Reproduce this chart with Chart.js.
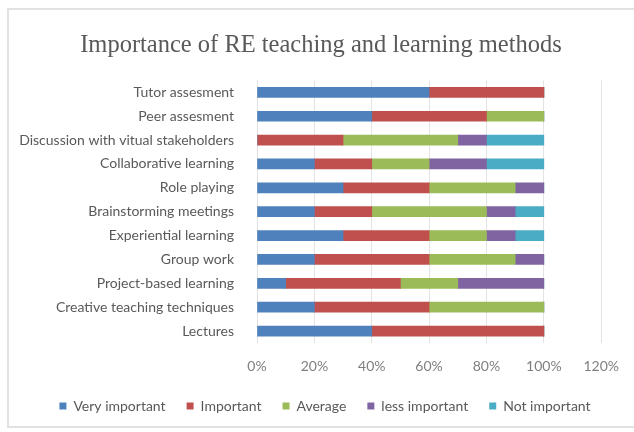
<!DOCTYPE html>
<html>
<head>
<meta charset="utf-8">
<script src="https://cdn.jsdelivr.net/npm/chart.js@4"></script>
<style>
  body { margin: 0; background: #fff; }
  #frame { position: absolute; left: 7px; top: 8px; width: 640px; height: 420px; border: 2px solid #e2e2e2; border-right: none; box-sizing: border-box; }
  #wrap { position: absolute; left: 0; top: 0; width: 634px; height: 432px; }
</style>
</head>
<body>
<div id="frame"></div>
<div id="wrap"><canvas id="methods"></canvas></div>
<script>
// teaching methods, top to bottom
var methods = ['Tutor assesment', 'Peer assesment', 'Discussion with vitual stakeholders', 'Collaborative learning',
  'Role playing', 'Brainstorming meetings', 'Experiential learning', 'Group work',
  'Project-based learning', 'Creative teaching techniques', 'Lectures'];

// share of answers per rating (%)
var veryImportant = [60, 40, 0, 20, 30, 20, 30, 20, 10, 20, 40];
var important     = [40, 40, 30, 20, 30, 20, 30, 40, 40, 40, 60];
var average       = [0, 20, 40, 20, 30, 40, 20, 30, 20, 40, 0];
var lessImportant = [0, 0, 10, 20, 10, 10, 10, 10, 30, 0, 0];
var notImportant  = [0, 0, 20, 20, 0, 10, 10, 0, 0, 0, 0];

var xTicks = [0, 20, 40, 60, 80, 100, 120];

function series(label, data, color) {
    return {
        label: label,
        data: data,
        backgroundColor: color,
        borderWidth: 0,
        barThickness: 10
    };
}

// title and legend sit a bit right of the full canvas centre
var shiftHeader = {
    id: 'shiftHeader',
    afterLayout: function (chart) {
        chart.titleBlock.left += 7;
        chart.titleBlock.right += 7;
        chart.legend.left += 11;
        chart.legend.right += 11;
    }
};

var myChart = new Chart(
    document.getElementById('methods'),
    config = {
        type: 'bar',
        data: {
            labels: methods,
            datasets: [
                series('Very important', veryImportant, '#4F81BD'),
                series('Important', important, '#C0504D'),
                series('Average', average, '#9BBB59'),
                series('less important', lessImportant, '#8064A2'),
                series('Not important', notImportant, '#4BACC6'),
            ]
        },
        plugins: [shiftHeader],
        options: {
            indexAxis: 'y',
            responsive: true,
            maintainAspectRatio: false,
            animation: false,
            layout: {
                padding: { top: 23, right: 25, left: 19, bottom: 9 }
            },
            scales: {
                x: {
                    stacked: true,
                    min: 0,
                    max: 120,
                    afterBuildTicks: function (axis) {
                        axis.ticks = xTicks.map(function (v) { return { value: v }; });
                    },
                    // keep the % row tight under the bars
                    afterFit: function (axis) { axis.height = 35; },
                    ticks: {
                        callback: function (v) { return v + '%'; },
                        color: '#7f7f7f',
                        font: { family: 'Lato', size: 14 },
                        padding: 15
                    },
                    grid: { color: '#e3e3e3', drawTicks: false },
                    border: { display: false }
                },
                y: {
                    stacked: true,
                    afterFit: function (axis) { axis.width = 238; },
                    ticks: {
                        autoSkip: false,
                        color: '#595959',
                        font: { family: 'Lato', size: 14 },
                        padding: 15
                    },
                    grid: { display: false },
                    border: { display: false }
                }
            },
            plugins: {
                title: {
                    display: true,
                    text: 'Importance of RE teaching and learning methods',
                    color: '#595959',
                    font: { family: 'Liberation Serif', size: 24.5, weight: 'normal' },
                    padding: { top: 8, bottom: 20 }
                },
                legend: {
                    position: 'bottom',
                    labels: {
                        boxWidth: 7,
                        boxHeight: 7,
                        color: '#595959',
                        font: { family: 'Lato', size: 14 },
                        padding: 21
                    }
                },
                tooltip: { enabled: false }
            }
        }
    });
</script>
</body>
</html>
